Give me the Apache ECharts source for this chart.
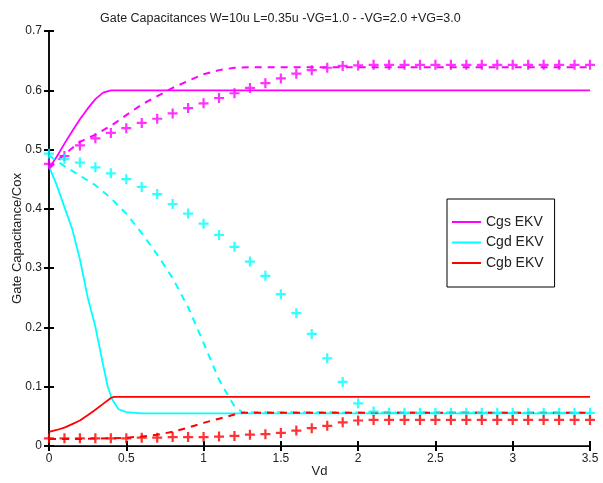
<!DOCTYPE html>
<html>
<head>
<meta charset="utf-8">
<script src="https://cdn.jsdelivr.net/npm/echarts@6/dist/echarts.min.js"></script>
<style>
  html, body { margin: 0; padding: 0; background: #fff; }
  #chart { width: 603px; height: 483px; }
</style>
</head>
<body>
<div id="chart"></div>
<script>
// ---- VG = 1.0 (solid lines) ----
const vdCgs1 = [0, 0.05, 0.1, 0.15, 0.2, 0.25, 0.3, 0.35, 0.4, 3.5];
const cgs1   = [0.468, 0.488, 0.510, 0.531, 0.551, 0.569, 0.585, 0.596, 0.600, 0.600];

const vdCgd1 = [0, 0.05, 0.1, 0.15, 0.2, 0.25, 0.3, 0.35, 0.38, 0.41, 0.45, 0.5, 0.6, 3.5];
const cgd1   = [0.472, 0.440, 0.403, 0.366, 0.315, 0.251, 0.201, 0.137, 0.100, 0.078, 0.062, 0.057, 0.055, 0.055];

const vdCgb1 = [0, 0.05, 0.1, 0.15, 0.2, 0.25, 0.3, 0.35, 0.4, 0.42, 3.5];
const cgb1   = [0.024, 0.027, 0.031, 0.037, 0.043, 0.052, 0.061, 0.071, 0.081, 0.083, 0.083];

// ---- VG = 2.0 (dashed lines) ----
const vdCgs2 = [0, 0.1, 0.2, 0.3, 0.4, 0.5, 0.6, 0.7, 0.8, 0.9, 1.0, 1.1, 1.2, 1.3, 3.5];
const cgs2   = [0.468, 0.492, 0.513, 0.525, 0.540, 0.558, 0.576, 0.590, 0.604, 0.616, 0.627, 0.634, 0.638, 0.639, 0.639];

const vdCgd2 = [0, 0.1, 0.2, 0.3, 0.4, 0.5, 0.6, 0.7, 0.8, 0.9, 1.0, 1.05, 1.1, 1.15, 1.2, 1.25, 3.5];
const cgd2   = [0.490, 0.472, 0.456, 0.440, 0.418, 0.392, 0.359, 0.323, 0.283, 0.234, 0.174, 0.143, 0.112, 0.089, 0.067, 0.057, 0.056];

const vdCgb2 = [0, 0.2, 0.4, 0.5, 0.6, 0.7, 0.8, 0.9, 1.0, 1.1, 1.2, 1.25, 3.5];
const cgb2   = [0.012, 0.012, 0.013, 0.014, 0.016, 0.019, 0.024, 0.031, 0.039, 0.046, 0.053, 0.056, 0.056];

// ---- VG = 3.0 (plus markers, every 0.1 V) ----
const vdMarks = [0, 0.1, 0.2, 0.3, 0.4, 0.5, 0.6, 0.7, 0.8, 0.9, 1.0, 1.1, 1.2, 1.3, 1.4, 1.5, 1.6, 1.7,
                 1.8, 1.9, 2.0, 2.1, 2.2, 2.3, 2.4, 2.5, 2.6, 2.7, 2.8, 2.9, 3.0, 3.1, 3.2, 3.3, 3.4, 3.5];
const cgs3 = [0.476, 0.489, 0.507, 0.519, 0.528, 0.536, 0.545, 0.552, 0.561, 0.570, 0.578, 0.587, 0.595, 0.604,
              0.612, 0.620, 0.628, 0.634, 0.638, 0.641, 0.642, 0.643, 0.643, 0.643, 0.643, 0.643, 0.643, 0.643,
              0.643, 0.643, 0.643, 0.643, 0.643, 0.643, 0.643, 0.643];
const cgd3 = [0.493, 0.484, 0.478, 0.470, 0.460, 0.450, 0.437, 0.425, 0.408, 0.392, 0.375, 0.356, 0.336, 0.311,
              0.287, 0.256, 0.224, 0.189, 0.148, 0.108, 0.072, 0.058, 0.056, 0.056, 0.056, 0.056, 0.056, 0.056,
              0.056, 0.056, 0.056, 0.056, 0.056, 0.056, 0.056, 0.056];
const cgb3 = [0.013, 0.013, 0.013, 0.013, 0.013, 0.013, 0.014, 0.014, 0.015, 0.015, 0.015, 0.016, 0.017, 0.019,
              0.020, 0.022, 0.026, 0.030, 0.034, 0.040, 0.043, 0.044, 0.044, 0.044, 0.044, 0.044, 0.044, 0.044,
              0.044, 0.044, 0.044, 0.044, 0.044, 0.044, 0.044, 0.044];

const xTicks = { min: 0, max: 3.5, interval: 0.5 };
const yTicks = { min: 0, max: 0.7, interval: 0.1 };

const MAGENTA = '#ff00ff', CYAN = '#00ffff', RED = '#ff0000';
const FONT = 'Liberation Sans, Arial, sans-serif';
const PLUS = 'path://M3.5,0H5.5V3.5H9V5.5H5.5V9H3.5V5.5H0V3.5H3.5Z';

const pairs = (xs, ys) => xs.map((x, i) => [x, ys[i]]);

function solid(name, xs, ys, color) {
  return { name, type: 'line', data: pairs(xs, ys), showSymbol: false, silent: true,
           lineStyle: { color, width: 1.8 }, itemStyle: { color }, z: 3 };
}
function dashed(name, xs, ys, color) {
  return { name, type: 'line', data: pairs(xs, ys), showSymbol: false, silent: true,
           lineStyle: { color, width: 2, type: [7, 6] }, itemStyle: { color }, z: 3 };
}
function plus(name, ys, color) {
  return { name, type: 'scatter', data: pairs(vdMarks, ys), symbol: PLUS, symbolSize: 10,
           itemStyle: { color }, silent: true, z: 4 };
}

const chart = echarts.init(document.getElementById('chart'), null, { renderer: 'canvas' });

const axisBase = {
  type: 'value',
  axisLine: { show: true, lineStyle: { color: '#000', width: 1.5 } },
  axisTick: { show: true, inside: true, length: 5, lineStyle: { color: '#000', width: 2 } },
  splitLine: { show: false }
};

chart.setOption({
  animation: false,
  backgroundColor: '#fff',
  title: {
    text: 'Gate Capacitances W=10u L=0.35u -VG=1.0 - -VG=2.0 +VG=3.0',
    left: 95, top: 7,
    textStyle: { fontFamily: FONT, fontSize: 12.5, fontWeight: 'normal', color: '#222' }
  },
  grid: { left: 49, right: 13, top: 31, bottom: 37, outerBoundsMode: 'none', containLabel: false },
  legend: {
    orient: 'vertical', left: 447, top: 199,
    data: ['Cgs EKV', 'Cgd EKV', 'Cgb EKV'],
    icon: 'rect', itemWidth: 29, itemHeight: 2, itemGap: 4.5,
    padding: [15, 11, 16, 5],
    borderColor: '#000', borderWidth: 1, backgroundColor: '#fff',
    textStyle: { fontFamily: FONT, fontSize: 14, lineHeight: 16, color: '#222' }
  },
  xAxis: [
    Object.assign({}, axisBase, xTicks, {
      position: 'bottom',
      name: 'Vd', nameLocation: 'middle', nameGap: 19, nameMoveOverlap: false,
      nameTextStyle: { fontFamily: FONT, fontSize: 13, color: '#222' },
      axisLabel: { fontFamily: FONT, fontSize: 12, color: '#222', margin: 7 }
    }),
    Object.assign({}, axisBase, xTicks, { position: 'top', axisLabel: { show: false },
      axisLine: { show: true, lineStyle: { color: '#000', width: 1 } } })
  ],
  yAxis: [
    Object.assign({}, axisBase, yTicks, {
      position: 'left',
      name: 'Gate Capacitance/Cox', nameLocation: 'middle', nameGap: 25, nameMoveOverlap: false,
      nameTextStyle: { fontFamily: FONT, fontSize: 13, color: '#222' },
      axisLabel: { fontFamily: FONT, fontSize: 12, color: '#222', margin: 7 }
    }),
    Object.assign({}, axisBase, yTicks, { position: 'right', axisLabel: { show: false } })
  ],
  series: [
    solid('Cgs EKV', vdCgs1, cgs1, MAGENTA),
    solid('Cgd EKV', vdCgd1, cgd1, CYAN),
    solid('Cgb EKV', vdCgb1, cgb1, RED),
    dashed('Cgs VG=2.0', vdCgs2, cgs2, MAGENTA),
    dashed('Cgd VG=2.0', vdCgd2, cgd2, CYAN),
    dashed('Cgb VG=2.0', vdCgb2, cgb2, RED),
    plus('Cgs VG=3.0', cgs3, MAGENTA),
    plus('Cgd VG=3.0', cgd3, CYAN),
    plus('Cgb VG=3.0', cgb3, RED)
  ]
});
</script>
</body>
</html>
